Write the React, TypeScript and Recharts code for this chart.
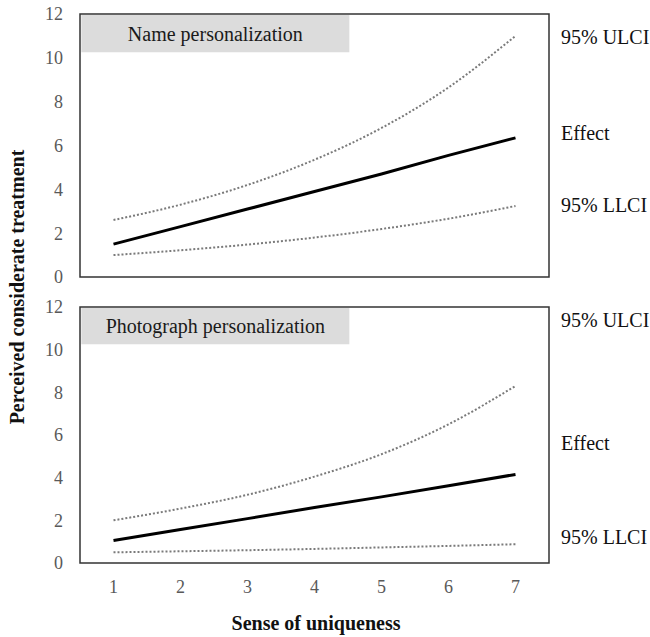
import React from 'react';
import { LineChart, Line, XAxis, YAxis, ReferenceArea } from 'recharts';

const sense = [1, 2, 3, 4, 5, 6, 7];
const yTicks = [0, 2, 4, 6, 8, 10, 12];

// Name personalization panel
const nameUlci = [2.6, 3.3, 4.2, 5.35, 6.8, 8.65, 11.0];
const nameEffect = [1.5, 2.3, 3.1, 3.9, 4.7, 5.55, 6.35];
const nameLlci = [1.0, 1.22, 1.48, 1.8, 2.19, 2.66, 3.24];

// Photograph personalization panel
const photoUlci = [2.0, 2.55, 3.2, 4.05, 5.1, 6.5, 8.3];
const photoEffect = [1.05, 1.57, 2.08, 2.6, 3.1, 3.62, 4.15];
const photoLlci = [0.5, 0.55, 0.6, 0.66, 0.73, 0.8, 0.88];

const serif = 'Liberation Serif';
const tickStyle = { fill: '#595959', fontSize: 18, fontFamily: serif };

const build = (ulci: number[], effect: number[], llci: number[]) =>
  sense.map((s, i) => ({ s, ulci: ulci[i], effect: effect[i], llci: llci[i] }));

const nameData = build(nameUlci, nameEffect, nameLlci);
const photoData = build(photoUlci, photoEffect, photoLlci);

const Panel = ({ data, title, height, margin, showX }: any) => (
  <LineChart width={650} height={height} data={data} margin={margin} style={{ fontFamily: serif }}>
    <XAxis
      dataKey="s"
      type="number"
      domain={[0.5, 7.5]}
      ticks={sense}
      hide={!showX}
      axisLine={false}
      tickLine={false}
      tickMargin={11}
      height={74}
      tick={tickStyle}
      allowDataOverflow
    />
    <YAxis
      type="number"
      domain={[0, 12]}
      ticks={yTicks}
      width={80}
      axisLine={false}
      tickLine={false}
      tickMargin={11}
      tick={tickStyle}
      allowDataOverflow
    />
    <ReferenceArea
      x1={0.52}
      x2={4.52}
      y1={10.25}
      y2={11.95}
      fill="#dcdcdc"
      fillOpacity={1}
      stroke="none"
      label={{ value: title, position: 'center', fill: '#1a1a1a', fontSize: 20, fontFamily: serif }}
    />
    <Line type="monotone" dataKey="ulci" stroke="#7a7a7a" strokeWidth={2} strokeDasharray="2 2" dot={false} isAnimationActive={false} />
    <Line type="monotone" dataKey="llci" stroke="#7a7a7a" strokeWidth={2} strokeDasharray="2 2" dot={false} isAnimationActive={false} />
    <Line type="linear" dataKey="effect" stroke="#000" strokeWidth={3} dot={false} isAnimationActive={false} />
    <ReferenceArea x1={0.5} x2={7.5} y1={0} y2={12} fill="none" stroke="#333" strokeWidth={1.5} />
  </LineChart>
);

const sideLabel = (text: string, top: number) => (
  <div
    key={text + top}
    style={{ position: 'absolute', left: 561, top: top - 12, fontSize: 20, fontFamily: serif, color: '#111', lineHeight: '24px', whiteSpace: 'nowrap' }}
  >
    {text}
  </div>
);

export default function App() {
  return (
    <div style={{ position: 'absolute', left: 0, top: 0, width: 650, height: 637, background: '#fff', fontFamily: serif }}>
      <div style={{ position: 'absolute', left: 0, top: 0 }}>
        <Panel data={nameData} title="Name personalization" height={290} margin={{ top: 14, right: 101, bottom: 13, left: 0 }} showX={false} />
      </div>
      <div style={{ position: 'absolute', left: 0, top: 290 }}>
        <Panel data={photoData} title="Photograph personalization" height={347} margin={{ top: 17, right: 101, bottom: 0, left: 0 }} showX />
      </div>
      {sideLabel('95% ULCI', 37)}
      {sideLabel('Effect', 133)}
      {sideLabel('95% LLCI', 205)}
      {sideLabel('95% ULCI', 320)}
      {sideLabel('Effect', 443)}
      {sideLabel('95% LLCI', 537)}
      <div
        style={{ position: 'absolute', left: 17, top: 287, transform: 'translate(-50%, -50%) rotate(-90deg)', fontSize: 20, fontWeight: 'bold', whiteSpace: 'nowrap', color: '#111' }}
      >
        Perceived considerate treatment
      </div>
      <div
        style={{ position: 'absolute', left: 316, top: 623, transform: 'translate(-50%, -50%)', fontSize: 20, fontWeight: 'bold', whiteSpace: 'nowrap', color: '#111' }}
      >
        Sense of uniqueness
      </div>
    </div>
  );
}
